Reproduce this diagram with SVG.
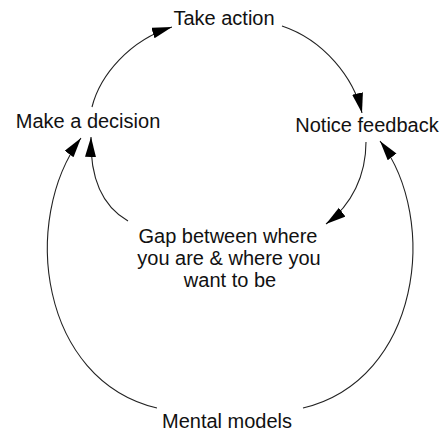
<svg xmlns="http://www.w3.org/2000/svg" width="444" height="436" viewBox="0 0 444 436">
<style>
text{font-family:"Liberation Sans",Arial,sans-serif;font-size:20px;fill:#111;text-anchor:middle}
.c{fill:none;stroke:#222;stroke-width:1.1;marker-end:url(#ah)}
</style>
<defs>
<marker id="ah" markerUnits="userSpaceOnUse" markerWidth="22" markerHeight="12" refX="20" refY="5.5" orient="auto">
<path d="M0,0 L20,5.5 L0,11 Z" fill="#000"/>
</marker>
</defs>
<rect width="444" height="436" fill="#fff"/>
<g id="connectors">
<path class="c" d="M92,107 C100,75 130,40 172,27"/>
<path class="c" d="M282,26 C324,40 354,78 362,113"/>
<path class="c" d="M366,142 C366,175 352,205 326,224"/>
<path class="c" d="M128,221 C100,205 90,175 91,137"/>
<path class="c" d="M157,408 C40,380 20,220 81,138"/>
<path class="c" d="M303,408 C420,380 440,220 380,141"/>
</g>
<g id="take-action"><text x="224" y="25">Take action</text></g>
<g id="make-decision"><text x="88" y="128">Make a decision</text></g>
<g id="notice-feedback"><text x="367" y="132">Notice feedback</text></g>
<g id="gap"><text x="228" y="243">Gap between where</text><text x="229" y="265">you are &amp; where you</text><text x="230" y="287">want to be</text></g>
<g id="mental-models"><text x="227" y="428">Mental models</text></g>
</svg>
